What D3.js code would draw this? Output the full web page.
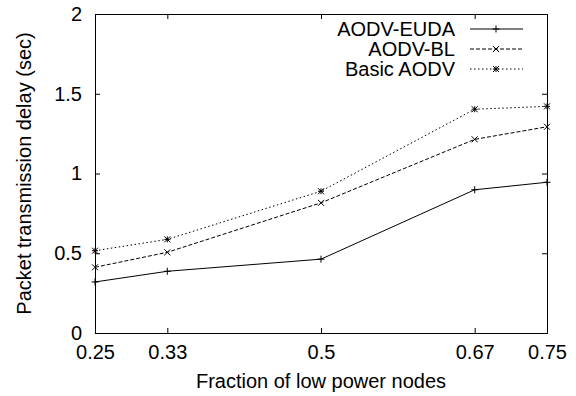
<!DOCTYPE html>
<html>
<head>
<meta charset="utf-8">
<script src="https://cdn.jsdelivr.net/npm/d3@7"></script>
<style>
  html, body { margin: 0; padding: 0; background: #fff; }
  svg { display: block; font-family: "Liberation Sans", Arial, sans-serif; }
</style>
</head>
<body>
<div id="chart"></div>
<script>
// fraction of low power nodes
const fractions = [0.25, 0.33, 0.5, 0.67, 0.75];
const xTickLabels = ['0.25', '0.33', '0.5', '0.67', '0.75'];
const yTicks = [0, 0.5, 1, 1.5, 2];

// delay (sec)
const euda  = [0.32, 0.387, 0.463, 0.898, 0.945];
const bl    = [0.412, 0.506, 0.816, 1.214, 1.293];
const basic = [0.516, 0.587, 0.889, 1.403, 1.421];

const seriesNames = ['AODV-EUDA', 'AODV-BL', 'Basic AODV'];

const W = 576, H = 396;
const M = { left: 95, right: 29, top: 14, bottom: 63 };

const svg = d3.select('#chart').append('svg')
  .attr('width', W).attr('height', H);

const x = d3.scaleLinear().domain([0.25, 0.75]).range([M.left, W - M.right]);
const y = d3.scaleLinear().domain([0, 2]).range([H - M.bottom, M.top]);

const TICK = 5;
const FS = 20;

// — axes (gnuplot style: ticks inside, mirrored) —
const axisB = d3.axisBottom(x).tickValues(fractions)
  .tickFormat((d, i) => xTickLabels[i]).tickSizeInner(-TICK).tickSizeOuter(0).tickPadding(12);
const axisT = d3.axisTop(x).tickValues(fractions)
  .tickFormat('').tickSizeInner(-TICK).tickSizeOuter(0);
const axisL = d3.axisLeft(y).tickValues(yTicks)
  .tickFormat(d3.format('')).tickSizeInner(-TICK).tickSizeOuter(0).tickPadding(13);
const axisR = d3.axisRight(y).tickValues(yTicks)
  .tickFormat('').tickSizeInner(-TICK).tickSizeOuter(0);

function styleAxis(g) {
  g.select('.domain').remove();
  g.selectAll('line').attr('stroke', '#000').attr('stroke-width', 1);
  g.selectAll('text').attr('fill', '#000').style('font-size', FS + 'px')
    .style('font-family', '"Liberation Sans", Arial, sans-serif');
}

svg.append('g').attr('transform', `translate(0,${H - M.bottom})`).call(axisB).call(styleAxis);
svg.append('g').attr('transform', `translate(0,${M.top})`).call(axisT).call(styleAxis);
svg.append('g').attr('transform', `translate(${M.left},0)`).call(axisL).call(styleAxis);
svg.append('g').attr('transform', `translate(${W - M.right},0)`).call(axisR).call(styleAxis);

// frame
svg.append('rect')
  .attr('x', M.left + 0.5).attr('y', M.top + 0.5)
  .attr('width', W - M.left - M.right).attr('height', H - M.top - M.bottom)
  .attr('fill', 'none').attr('stroke', '#000').attr('stroke-width', 1);

// axis titles
svg.append('text')
  .attr('x', (M.left + W - M.right) / 2).attr('y', H - 8)
  .attr('text-anchor', 'middle').style('font-size', FS + 'px')
  .text('Fraction of low power nodes');

svg.append('text')
  .attr('transform', `translate(31,${(M.top + H - M.bottom) / 2}) rotate(-90)`)
  .attr('text-anchor', 'middle').style('font-size', FS + 'px')
  .text('Packet transmission delay (sec)');

// — series —
const series = [
  { name: seriesNames[0], values: euda,  dash: null,  marker: 'plus' },
  { name: seriesNames[1], values: bl,    dash: '4,2', marker: 'cross' },
  { name: seriesNames[2], values: basic, dash: '1.5,2.5', marker: 'star' },
];

const line = d3.line().x(d => x(d[0])).y(d => y(d[1]));

function markerPath(type, s) {
  const p = `M${-s},0H${s}M0,${-s}V${s}`;
  const c = `M${-s},${-s}L${s},${s}M${-s},${s}L${s},${-s}`;
  if (type === 'plus') return p;
  if (type === 'cross') return c;
  return p + c;
}

series.forEach(s => {
  const pts = fractions.map((f, i) => [f, s.values[i]]);
  svg.append('path')
    .datum(pts)
    .attr('d', line)
    .attr('fill', 'none').attr('stroke', '#000').attr('stroke-width', 1)
    .attr('stroke-dasharray', s.dash);
  svg.append('g').selectAll('path')
    .data(pts).join('path')
    .attr('transform', d => `translate(${x(d[0])},${y(d[1])})`)
    .attr('d', markerPath(s.marker, s.marker === 'plus' ? 3.5 : 3))
    .attr('fill', 'none').attr('stroke', '#000').attr('stroke-width', 1);
});

// — legend —
const legend = svg.append('g');
series.forEach((s, i) => {
  const ly = 29 + i * 20;
  legend.append('text')
    .attr('x', 455).attr('y', ly).attr('dy', '0.35em')
    .attr('text-anchor', 'end').style('font-size', FS + 'px')
    .text(s.name);
  legend.append('line')
    .attr('x1', 470).attr('x2', 523).attr('y1', ly).attr('y2', ly)
    .attr('stroke', '#000').attr('stroke-width', 1)
    .attr('stroke-dasharray', s.dash);
  legend.append('path')
    .attr('transform', `translate(496,${ly})`)
    .attr('d', markerPath(s.marker, s.marker === 'plus' ? 3.5 : 3))
    .attr('fill', 'none').attr('stroke', '#000').attr('stroke-width', 1);
});
</script>
</body>
</html>
